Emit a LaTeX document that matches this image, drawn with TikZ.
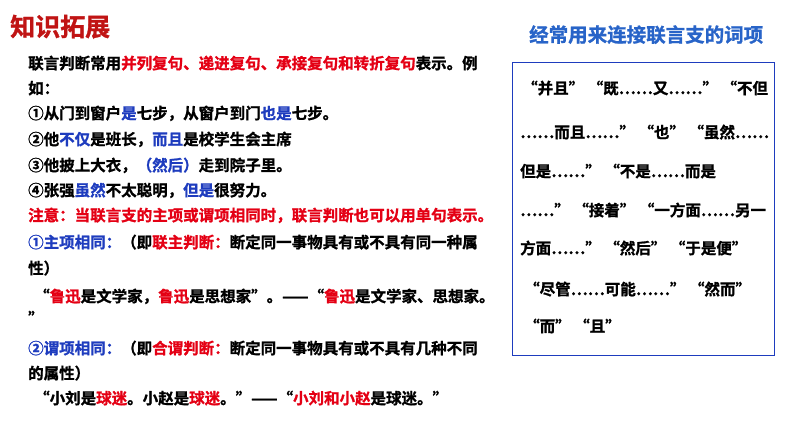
\documentclass[tikz,border=0pt]{standalone}
\usepackage{fontspec}
\setmainfont{Noto Sans CJK SC Bold}[FakeBold=1.2]
\definecolor{rd}{RGB}{228,0,20}
\definecolor{drd}{RGB}{192,20,20}
\definecolor{bl}{RGB}{30,60,190}
\definecolor{tbl}{RGB}{40,100,200}
\newcommand{\R}[1]{\textcolor{rd}{#1}}
\newcommand{\B}[1]{\textcolor{bl}{#1}}
\begin{document}
\begin{tikzpicture}[x=1pt,y=-1pt,
  ln/.style={anchor=base west,inner sep=0pt,font=\fontsize{15.5}{16}\selectfont},
  bx/.style={anchor=base west,inner sep=0pt,font=\fontsize{15.5}{16}\selectfont}]
\useasboundingbox (0,0) rectangle (794,447);
\node[anchor=base west,inner sep=0pt,text=drd,font=\fontsize{25}{26}\selectfont] (title) at (10,36) {知识拓展};
\node[anchor=base west,inner sep=0pt,text=tbl,font=\fontsize{19.5}{20}\selectfont] (rtitle) at (529,42) {经常用来连接联言支的词项};
\node[ln] (l1) at (28,69) {联言判断常用\R{并列复句、递进复句、承接复句和转折复句}表示。例};
\node[ln] (l2) at (28,94) {如：};
\node[ln] (l3) at (28,119) {①从门到窗户\B{是}七步，从窗户到门\B{也是}七步。};
\node[ln] (l4) at (28,145) {②他\B{不仅}是班长，\B{而且}是校学生会主席};
\node[ln] (l5) at (28,171) {③他披上大衣，\B{（然后）}走到院子里。};
\node[ln] (l6) at (28,196) {④张强\B{虽然}不太聪明，\B{但是}很努力。};
\node[ln,text=rd] (l7) at (28,221) {注意：当联言支的主项或谓项相同时，联言判断也可以用单句表示。};
\node[ln] (l8) at (28,248) {\B{①主项相同：}（即\R{联主判断：}断定同一事物具有或不具有同一种属};
\node[ln] (l9) at (28,274) {性）};
\node[ln] (l10) at (34,302) {“\R{鲁迅}是文学家，\R{鲁迅}是思想家”。——“\R{鲁迅}是文学家、思想家。};
\node[ln] (l11) at (28,324) {”};
\node[ln] (l12) at (28,354) {\B{②谓项相同：}（即\R{合谓判断：}断定同一事物具有或不具有几种不同};
\node[ln] (l13) at (28,379) {的属性）};
\node[ln] (l14) at (34,404) {“小刘是\R{球迷}。小赵是\R{球迷}。”——“\R{小刘和小赵}是球迷。”};
\draw[bl,line width=1pt] (512,62) rectangle (774,355);
\node[bx] (b1) at (522,94) {“并且” “既……又……” “不但};
\node[bx] (b2) at (520,138) {……而且……” “也” “虽然……};
\node[bx] (b3) at (520,177) {但是……” “不是……而是};
\node[bx] (b4) at (520,216) {……” “接着” “一方面……另一};
\node[bx] (b5) at (520,254) {方面……” “然后” “于是便”};
\node[bx] (b6) at (524,295) {“尽管……可能……” “然而”};
\node[bx] (b7) at (524,332) {“而” “且”};
\end{tikzpicture}
\end{document}
